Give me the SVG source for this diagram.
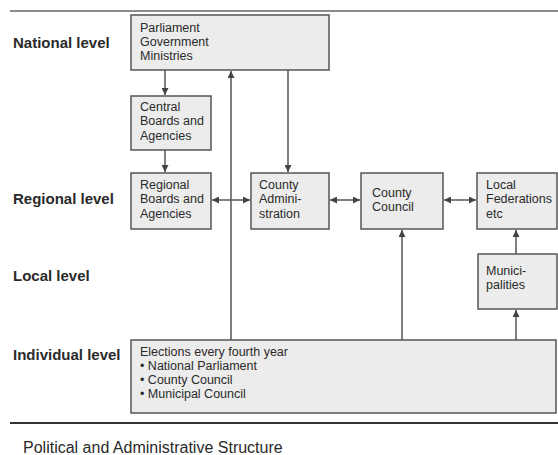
<svg xmlns="http://www.w3.org/2000/svg" width="558" height="455" viewBox="0 0 558 455">
<style>
.box{fill:#ececec;stroke:#555;stroke-width:1.5}
.t{font-family:"Liberation Sans",Arial,sans-serif;font-size:12.5px;fill:#2a2a2a}
.lvl{font-family:"Liberation Sans",Arial,sans-serif;font-size:15px;font-weight:bold;fill:#2a2a2a}
.cap{font-family:"Liberation Sans",Arial,sans-serif;font-size:16px;fill:#2a2a2a}
.c{stroke:#555;stroke-width:1.5;fill:none}
</style>
<defs>
<marker id="ah" viewBox="0 0 10 10" refX="10" refY="5" markerWidth="7" markerHeight="7" markerUnits="userSpaceOnUse" orient="auto-start-reverse">
<path d="M0,0 L10,5 L0,10 z" fill="#444"/>
</marker>
</defs>
<rect width="558" height="455" fill="#fff"/>
<line x1="10" y1="11" x2="558" y2="11" stroke="#666" stroke-width="1.5"/>
<line x1="10" y1="423" x2="558" y2="423" stroke="#333" stroke-width="2"/>
<g id="levels">
<text class="lvl" x="13" y="48">National level</text>
<text class="lvl" x="13" y="204">Regional level</text>
<text class="lvl" x="13" y="281">Local level</text>
<text class="lvl" x="13" y="360">Individual level</text>
</g>
<g id="connectors">
<line class="c" x1="165" y1="70" x2="165" y2="95" marker-end="url(#ah)"/>
<line class="c" x1="165" y1="150" x2="165" y2="172" marker-end="url(#ah)"/>
<line class="c" x1="288" y1="70" x2="288" y2="172" marker-end="url(#ah)"/>
<line class="c" x1="231" y1="340" x2="231" y2="71" marker-end="url(#ah)"/>
<line class="c" x1="212" y1="200" x2="250" y2="200" marker-start="url(#ah)" marker-end="url(#ah)"/>
<line class="c" x1="330" y1="200" x2="360" y2="200" marker-start="url(#ah)" marker-end="url(#ah)"/>
<line class="c" x1="444" y1="200" x2="476" y2="200" marker-start="url(#ah)" marker-end="url(#ah)"/>
<line class="c" x1="402" y1="340" x2="402" y2="230" marker-end="url(#ah)"/>
<line class="c" x1="516" y1="254" x2="516" y2="230" marker-end="url(#ah)"/>
<line class="c" x1="516" y1="340" x2="516" y2="310" marker-end="url(#ah)"/>
</g>
<g id="parliament">
<rect class="box" x="131" y="15" width="198" height="55"/>
<text class="t" x="140" y="32">Parliament</text>
<text class="t" x="140" y="46">Government</text>
<text class="t" x="140" y="60">Ministries</text>
</g>
<g id="central">
<rect class="box" x="131" y="96" width="80" height="54"/>
<text class="t" x="140" y="111">Central</text>
<text class="t" x="140" y="125">Boards and</text>
<text class="t" x="140" y="140">Agencies</text>
</g>
<g id="regional">
<rect class="box" x="131" y="173" width="80" height="56"/>
<text class="t" x="140" y="189">Regional</text>
<text class="t" x="140" y="203">Boards and</text>
<text class="t" x="140" y="218">Agencies</text>
</g>
<g id="countyadmin">
<rect class="box" x="251" y="173" width="78" height="56"/>
<text class="t" x="259" y="189">County</text>
<text class="t" x="259" y="203">Admini-</text>
<text class="t" x="259" y="218">stration</text>
</g>
<g id="countycouncil">
<rect class="box" x="361" y="173" width="82" height="56"/>
<text class="t" x="372" y="197">County</text>
<text class="t" x="372" y="211">Council</text>
</g>
<g id="federations">
<rect class="box" x="477" y="173" width="80" height="56"/>
<text class="t" x="486" y="189">Local</text>
<text class="t" x="486" y="203">Federations</text>
<text class="t" x="486" y="218">etc</text>
</g>
<g id="municipalities">
<rect class="box" x="478" y="254" width="79" height="55"/>
<text class="t" x="486" y="275">Munici-</text>
<text class="t" x="486" y="289">palities</text>
</g>
<g id="elections">
<rect class="box" x="131" y="340" width="425" height="73"/>
<text class="t" x="140" y="356">Elections every fourth year</text>
<text class="t" x="140" y="370">• National Parliament</text>
<text class="t" x="140" y="384">• County Council</text>
<text class="t" x="140" y="398">• Municipal Council</text>
</g>
<text class="cap" x="23" y="453">Political and Administrative Structure</text>
</svg>
